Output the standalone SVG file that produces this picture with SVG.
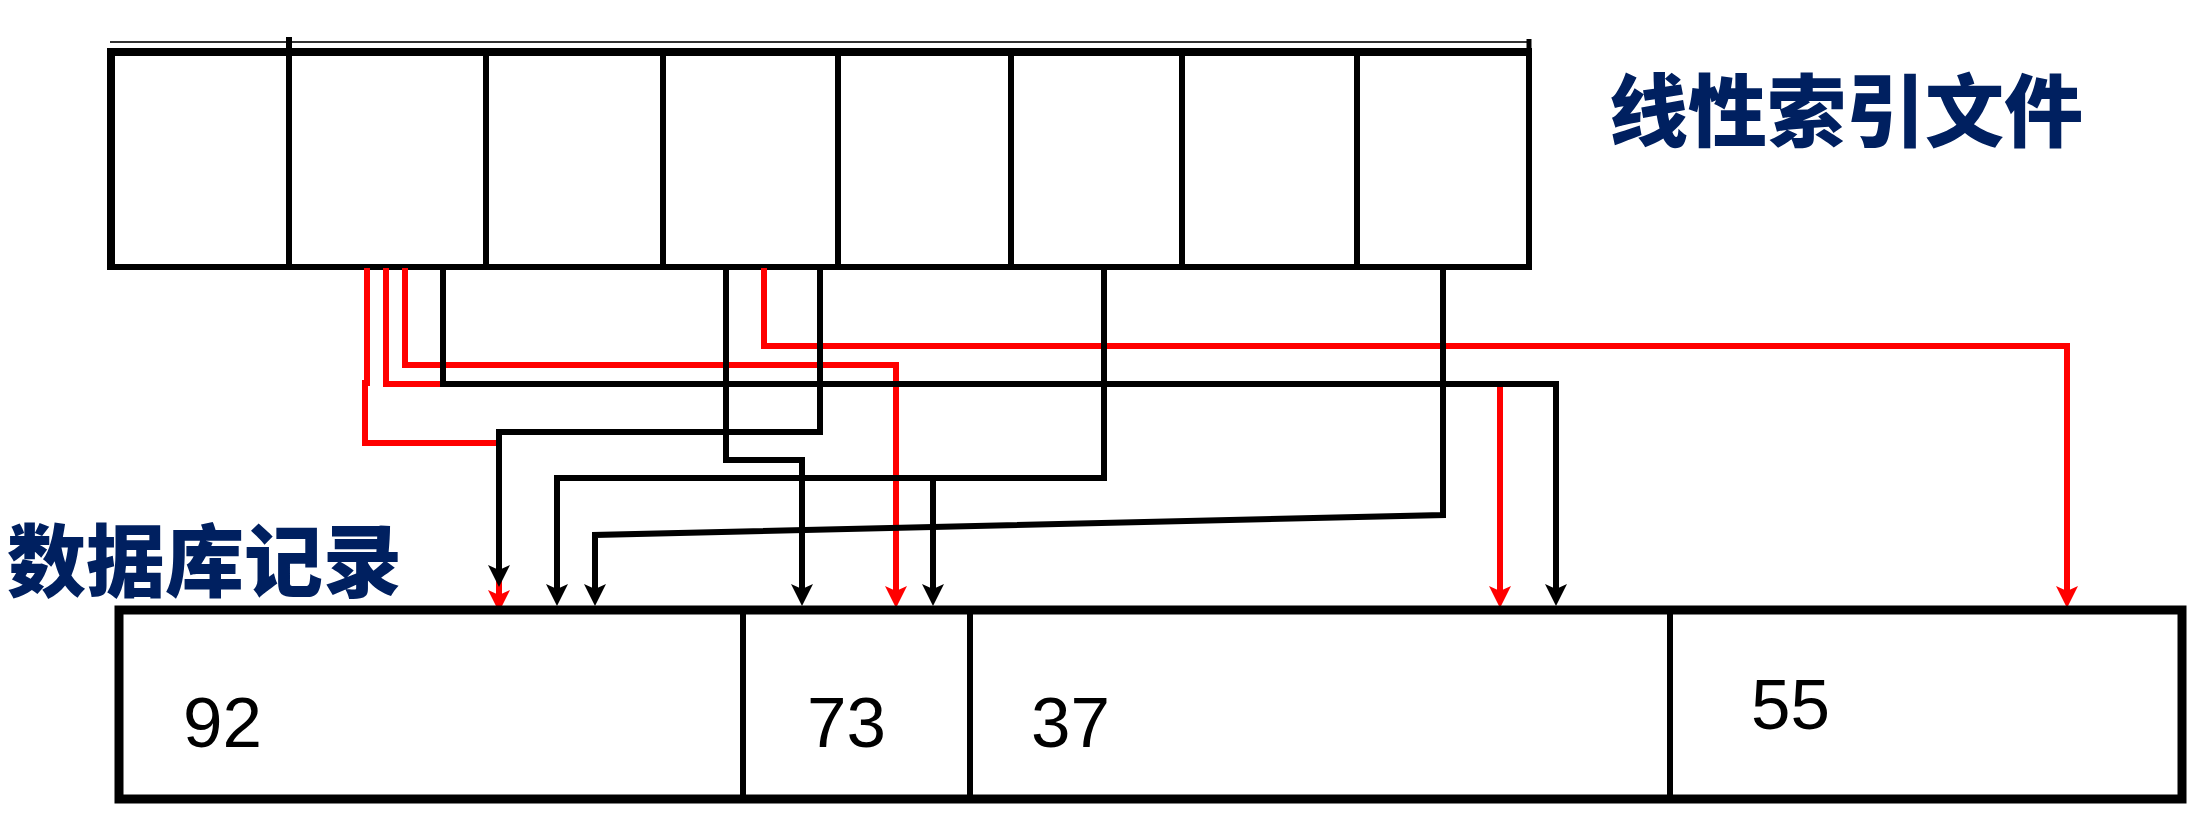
<svg xmlns="http://www.w3.org/2000/svg" width="2202" height="822" viewBox="0 0 2202 822">
<style>
.cell{fill:#fff;stroke:#000;stroke-width:6}
.rec{fill:#fff;stroke:#000;stroke-width:6}
.title{font-family:"Noto Sans CJK SC","Noto Sans CJK TC",sans-serif;font-weight:900;font-size:79px;fill:#002060}
.num{font-family:"Liberation Sans",Arial,sans-serif;font-size:71px;fill:#000}
.red{fill:none;stroke:#ff0000;stroke-width:6;marker-end:url(#ar)}
.blk{fill:none;stroke:#000;stroke-width:6;marker-end:url(#ab)}
</style>
<defs>
<marker id="ab" viewBox="0 0 22 22" refX="12" refY="11" markerWidth="22" markerHeight="22" markerUnits="userSpaceOnUse" orient="auto">
<path d="M0,0 L22,11 L0,22 L5,11 z" fill="#000"/>
</marker>
<marker id="ar" viewBox="0 0 22 22" refX="12" refY="11" markerWidth="22" markerHeight="22" markerUnits="userSpaceOnUse" orient="auto">
<path d="M0,0 L22,11 L0,22 L5,11 z" fill="#ff0000"/>
</marker>
</defs>
<rect width="2202" height="822" fill="#fff"/>

<g id="index-file">
<line x1="110" y1="42" x2="1529" y2="42" stroke="#333" stroke-width="2"/>
<line x1="289" y1="37" x2="289" y2="52" stroke="#000" stroke-width="6"/>
<line x1="1529" y1="39" x2="1529" y2="52" stroke="#000" stroke-width="5"/>
<g id="idx1"><rect class="cell" x="111" y="52" width="178" height="215"/></g>
<g id="idx2"><rect class="cell" x="289" y="52" width="197" height="215"/></g>
<g id="idx3"><rect class="cell" x="486" y="52" width="177" height="215"/></g>
<g id="idx4"><rect class="cell" x="663" y="52" width="175" height="215"/></g>
<g id="idx5"><rect class="cell" x="838" y="52" width="173" height="215"/></g>
<g id="idx6"><rect class="cell" x="1011" y="52" width="171" height="215"/></g>
<g id="idx7"><rect class="cell" x="1182" y="52" width="175" height="215"/></g>
<g id="idx8"><rect class="cell" x="1357" y="52" width="172" height="215"/></g>
<line x1="107" y1="52" x2="1532" y2="52" stroke="#000" stroke-width="8"/>
<line x1="111" y1="49" x2="111" y2="270" stroke="#000" stroke-width="8"/>
</g>

<g id="label-index"><text class="title" x="1609" y="141">线性索引文件</text></g>
<g id="label-db"><text class="title" x="7" y="591">数据库记录</text></g>

<g id="connectors">
<path class="red" d="M367,268 V383 H365 V443 H499 V602"/>
<path class="red" d="M386,268 V384 H1500 V598"/>
<path class="red" d="M405,268 V365 H896 V598"/>
<path class="red" d="M764,268 V346 H2067 V598"/>
<path class="blk" d="M443,268 V384 H1556 V596"/>
<path class="blk" d="M726,268 V460 H802 V596"/>
<path class="blk" d="M820,268 V432 H499 V577"/>
<path class="blk" d="M1104,268 V478 H557 V596"/>
<path class="blk" d="M933,478 V596"/>
<path class="blk" d="M1443,268 V515 L595,535 V596"/>
</g>

<g id="records">
<g id="rec92"><rect class="rec" x="119" y="610" width="624" height="189"/><text class="num" x="183" y="747">92</text></g>
<g id="rec73"><rect class="rec" x="743" y="610" width="227" height="189"/><text class="num" x="807" y="747">73</text></g>
<g id="rec37"><rect class="rec" x="970" y="610" width="700" height="189"/><text class="num" x="1031" y="747">37</text></g>
<g id="rec55"><rect class="rec" x="1670" y="610" width="512" height="189"/><text class="num" x="1751" y="729">55</text></g>
<rect x="119" y="610" width="2063" height="189" fill="none" stroke="#000" stroke-width="9"/>
</g>
</svg>
